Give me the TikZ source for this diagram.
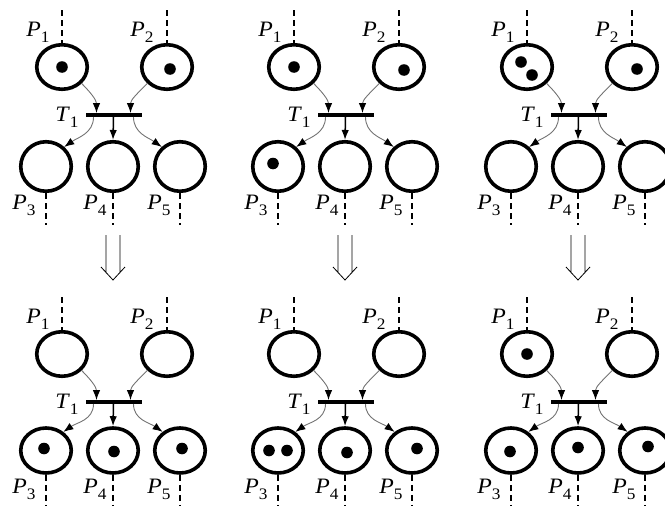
\documentclass[tikz,border=0pt]{standalone}
\usepackage{fontspec}
\setmainfont{Liberation Serif}
\usetikzlibrary{shapes.geometric,arrows.meta}

% place label with a lowered index
\newcommand{\pl}[2]{\textit{#1}\raisebox{-6pt}{\fontsize{16}{16}\selectfont #2}}

\begin{document}
\begin{tikzpicture}[
        x=1pt, y=1pt,
        place/.style={
            ellipse, draw, line width=3.6pt, inner sep=0pt,
            minimum width=50.5, minimum height=44.5
        },
        lowplace/.style={place, minimum height=#1},
        bar/.style={
            rectangle, fill=black, inner sep=0pt,
            minimum width=56, minimum height=3.6
        },
        lbl/.style={font=\fontsize{22}{22}\selectfont, inner sep=0pt, xscale=1.08},
        stub/.style={line width=1.9pt, dash pattern=on 6pt off 4pt},
        arc/.style={black!55, line width=0.9pt,
            -{Latex[length=10pt,width=7.5pt,color=black]}},
        stem/.style={line width=1.5pt, -{Latex[length=10pt,width=7.5pt]}},
        token/.style={fill=black}
    ]

    \useasboundingbox (0,0) rectangle (665,-506);
    \clip (0,0) rectangle (665,-506);

    % one net per marking, \h and \cy size the lower places
    \foreach \n/\px/\py/\h/\cy in {a/0/0/49.5/166.5, b/232/0/49.5/166.5, c/465/0/49.5/166.5,
                                    d/0/-287/45/163.5, e/232/-287/45/163.5, f/465/-287/45/163.5} {
    \begin{scope}[shift={(\px,\py)}]
        % input places
        \node[place] (\n1) at (62,-67)  {};
        \node[place] (\n2) at (167,-67) {};

        % transition
        \node[bar] (\n t) at (113.5,-115) {};
        \node[lbl] (\n tl) at (67,-117) {\pl{T}{1}};

        % output places
        \node[lowplace=\h] (\n3) at (46,-\cy)  {};
        \node[lowplace=\h] (\n4) at (113,-\cy) {};
        \node[lowplace=\h] (\n5) at (180,-\cy) {};

        % labels
        \node[lbl] (\n1l) at (38,-32)  {\pl{P}{1}};
        \node[lbl] (\n2l) at (142,-32) {\pl{P}{2}};
        \node[lbl] (\n3l) at (24,-\cy-39)  {\pl{P}{3}};
        \node[lbl] (\n4l) at (95,-\cy-39)  {\pl{P}{4}};
        \node[lbl] (\n5l) at (159,-\cy-39) {\pl{P}{5}};

        % open ends
        \coordinate (\n1in) at (62,-10);
        \coordinate (\n2in) at (167,-10);
        \coordinate (\n3out) at (46,-\cy-58);
        \coordinate (\n4out) at (113,-\cy-58);
        \coordinate (\n5out) at (180,-\cy-58);
        \draw[stub] (\n1in) -- (\n1.north);
        \draw[stub] (\n2in) -- (\n2.north);
        \draw[stub] (\n3.south) -- (\n3out);
        \draw[stub] (\n4.south) -- (\n4out);
        \draw[stub] (\n5.south) -- (\n5out);

        % arcs
        \draw[arc] (\n1.-40) to[out=-45, in=90] ([xshift=-17]\n t.north);
        \draw[arc] (\n2.-140) to[out=-135, in=90] ([xshift=17]\n t.north);
        \draw[arc] ([xshift=-20]\n t.south) to[out=-90, in=35] (\n3.47);
        \draw[stem] (\n t.south) -- (\n4.north);
        \draw[arc] ([xshift=20]\n t.south) to[out=-90, in=145] (\n5.133);
    \end{scope}
    }

    % firing arrows
    \foreach \x in {113,345,578} {
        \draw[line width=0.8pt] (\x-7,-235) -- (\x-7,-273)
            (\x+7,-235) -- (\x+7,-273)
            (\x-12,-267) -- (\x,-280) -- (\x+12,-267);
    }

    % tokens
    \fill[token] (a1.center) circle[radius=5.8];
    \fill[token] ([shift={(3,-2)}]a2.center) circle[radius=5.8];

    \fill[token] (b1.center) circle[radius=5.8];
    \fill[token] ([shift={(5,-3)}]b2.center) circle[radius=5.8];
    \fill[token] ([shift={(-5,3)}]b3.center) circle[radius=5.8];

    \fill[token] ([shift={(-6,5)}]c1.center) circle[radius=5.8];
    \fill[token] ([shift={(5,-8)}]c1.center) circle[radius=5.8];
    \fill[token] ([shift={(5,-2)}]c2.center) circle[radius=5.8];

    \fill[token] ([shift={(-2,2)}]d3.center) circle[radius=5.8];
    \fill[token] ([shift={(1,-1)}]d4.center) circle[radius=5.8];
    \fill[token] ([shift={(2,2)}]d5.center) circle[radius=5.8];

    \fill[token] ([shift={(-9,0)}]e3.center) circle[radius=5.8];
    \fill[token] ([shift={(9,0)}]e3.center) circle[radius=5.8];
    \fill[token] ([shift={(2,-2)}]e4.center) circle[radius=5.8];
    \fill[token] ([shift={(5,2)}]e5.center) circle[radius=5.8];

    \fill[token] (f1.center) circle[radius=5.8];
    \fill[token] ([shift={(-1,-1)}]f3.center) circle[radius=5.8];
    \fill[token] ([shift={(0,3)}]f4.center) circle[radius=5.8];
    \fill[token] ([shift={(3,4)}]f5.center) circle[radius=5.8];

\end{tikzpicture}
\end{document}
